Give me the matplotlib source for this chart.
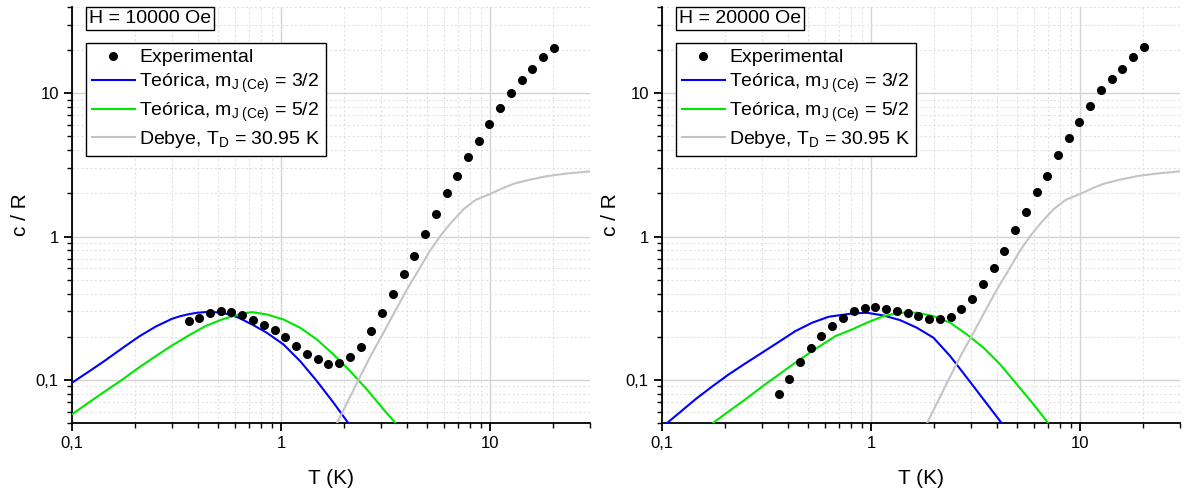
import numpy as np
import matplotlib
matplotlib.use('Agg')
import matplotlib.pyplot as plt
from matplotlib.ticker import LogLocator, NullFormatter, FuncFormatter

plt.rcParams['font.family'] = ['Liberation Sans', 'DejaVu Sans']
plt.rcParams['mathtext.fontset'] = 'custom'
plt.rcParams['mathtext.rm'] = 'Liberation Sans'
plt.rcParams['mathtext.it'] = 'Liberation Sans:italic'
plt.rcParams['mathtext.bf'] = 'Liberation Sans:bold'

# temperatures of the measured points (same grid for both fields)
T_exp = [0.363, 0.406, 0.457, 0.515, 0.578, 0.653, 0.734, 0.829, 0.933, 1.049,
         1.180, 1.327, 1.498, 1.684, 1.895, 2.138, 2.406, 2.705, 3.053, 3.435,
         3.865, 4.343, 4.872, 5.499, 6.179, 6.953, 7.823, 8.790, 9.890, 11.13,
         12.56, 14.12, 15.89, 17.87, 20.09]

# c/R, H = 10000 Oe
c_exp_10k = [0.257, 0.271, 0.294, 0.302, 0.297, 0.283, 0.263, 0.2425, 0.2213, 0.1988,
             0.1712, 0.1523, 0.1389, 0.1297, 0.1318, 0.1441, 0.1703, 0.2203, 0.294, 0.396,
             0.552, 0.734, 1.049, 1.446, 2.003, 2.649, 3.593, 4.644, 6.06, 7.886,
             10.08, 12.42, 14.75, 17.88, 20.86]

# c/R, H = 20000 Oe
c_exp_20k = [0.0801, 0.1019, 0.1331, 0.1677, 0.2010, 0.2370, 0.2713, 0.300, 0.315, 0.3237,
             0.3134, 0.3035, 0.2906, 0.2784, 0.2640, 0.2640, 0.2757, 0.3134, 0.368, 0.468,
             0.608, 0.790, 1.106, 1.477, 2.036, 2.649, 3.686, 4.842, 6.26, 8.09,
             10.46, 12.56, 14.75, 17.88, 21.19]

# theoretical curves, H = 10000 Oe
T_th_10k = [0.1, 0.1202, 0.1443, 0.1734, 0.2085, 0.2504, 0.301, 0.3298, 0.362, 0.3963,
            0.434, 0.4764, 0.522, 0.572, 0.627, 0.726, 0.854, 1.026, 1.233, 1.482,
            1.779, 2.115]
c_32_10k = [0.0955, 0.1141, 0.1368, 0.1658, 0.2000, 0.2348, 0.267, 0.2784, 0.2874, 0.294,
            0.297, 0.297, 0.294, 0.2847, 0.2713, 0.2436, 0.2133, 0.1768, 0.1352, 0.0981,
            0.0694, 0.0490]
T_th2_10k = [0.1, 0.1202, 0.1443, 0.1734, 0.2085, 0.2504, 0.301, 0.362, 0.434, 0.522,
             0.627, 0.726, 0.854, 1.026, 1.233, 1.482, 1.779, 2.138, 2.570, 3.087,
             3.560]
c_52_10k = [0.0575, 0.0694, 0.0835, 0.1000, 0.1216, 0.1458, 0.174, 0.2042, 0.237, 0.264,
            0.286, 0.297, 0.286, 0.264, 0.231, 0.1915, 0.1505, 0.1151, 0.0859, 0.0623,
            0.0490]

# theoretical curves, H = 20000 Oe
T_th_20k = [0.1040, 0.1202, 0.1443, 0.1734, 0.2085, 0.2504, 0.301, 0.363, 0.434, 0.522,
            0.627, 0.811, 0.954, 1.145, 1.377, 1.655, 1.987, 2.388, 2.870, 3.446,
            4.250]
c_32_20k = [0.0490, 0.0584, 0.0731, 0.0897, 0.1092, 0.1303, 0.1547, 0.1846, 0.2188, 0.2504,
            0.2757, 0.2906, 0.294, 0.2815, 0.261, 0.231, 0.1968, 0.1465, 0.1036, 0.0731,
            0.0490]
T_th2_20k = [0.1720, 0.2085, 0.2504, 0.301, 0.363, 0.434, 0.522, 0.675, 0.811, 0.954,
             1.145, 1.377, 1.655, 1.987, 2.388, 2.870, 3.446, 4.142, 4.979, 5.978,
             7.10]
c_52_20k = [0.0490, 0.0603, 0.0731, 0.0897, 0.1092, 0.1318, 0.1587, 0.2019, 0.2248, 0.2504,
            0.2784, 0.294, 0.294, 0.2784, 0.2504, 0.2075, 0.1677, 0.1282, 0.0930, 0.0675,
            0.0490]

# Debye, T_D = 30.95 K
T_deb = [1.84, 2.344, 2.70, 3.087, 3.50, 3.995, 4.50, 5.164, 5.80, 6.50,
         7.45, 8.50, 10.0, 11.5, 13.0, 15.0, 18.7, 23.0, 30.0]
c_deb = [0.0490, 0.100, 0.150, 0.2133, 0.300, 0.427, 0.570, 0.800, 1.020, 1.250,
         1.550, 1.800, 1.985, 2.180, 2.340, 2.470, 2.640, 2.750, 2.851]

fields = ['H = 10000 Oe', 'H = 20000 Oe']
panels = [(c_exp_10k, T_th_10k, c_32_10k, T_th2_10k, c_52_10k),
          (c_exp_20k, T_th_20k, c_32_20k, T_th2_20k, c_52_20k)]

lab_exp = 'Experimental'
lab_32 = r'Teórica, m$_{\mathrm{J\ (Ce)}}$ = 3/2'
lab_52 = r'Teórica, m$_{\mathrm{J\ (Ce)}}$ = 5/2'
lab_deb = r'Debye, T$_{\mathrm{D}}$ = 30.95 K'


def comma(v, pos):
    return ('%g' % v).replace('.', ',')


fig = plt.figure(figsize=(11.85, 4.93), dpi=100)
lefts = [72, 662]

for i, (field, (c_exp, t1, c1, t2, c2)) in enumerate(zip(fields, panels)):
    ax = fig.add_axes([lefts[i] / 1185, 70 / 493, 518 / 1185, 416 / 493])
    ax.set_xscale('log')
    ax.set_yscale('log')

    ax.plot(t1, c1, color='#0000ff', lw=1.5, label=lab_32, zorder=3)
    ax.plot(t2, c2, color='#00e600', lw=1.5, label=lab_52, zorder=3)
    ax.plot(T_deb, c_deb, color='#c4c4c4', lw=1.5, label=lab_deb, zorder=3)
    ax.plot(T_exp, c_exp, 'o', color='black', ms=5.5, label=lab_exp, zorder=4)

    ax.set_xlim(0.1, 30)
    ax.set_ylim(0.05, 40)

    for s in ['top', 'right']:
        ax.spines[s].set_visible(False)
    for s in ['left', 'bottom']:
        ax.spines[s].set_linewidth(1.3)

    ax.set_xticks([0.1, 1, 10])
    ax.set_yticks([0.1, 1, 10])
    ax.xaxis.set_major_formatter(FuncFormatter(comma))
    ax.yaxis.set_major_formatter(FuncFormatter(comma))
    for a in (ax.xaxis, ax.yaxis):
        a.set_minor_locator(LogLocator(base=10, subs=range(2, 10)))
        a.set_minor_formatter(NullFormatter())
    ax.tick_params(which='major', direction='out', length=6, width=1.3, labelsize=12)
    ax.tick_params(which='minor', direction='out', length=3.5, width=1.0)

    ax.grid(which='major', color='#d4d4d4', lw=1.0, ls='-', zorder=0)
    ax.grid(which='minor', color='#e2e2e2', lw=0.8, ls=(0, (2, 2)), zorder=0)
    ax.set_axisbelow(True)

    ax.set_xlabel('T (K)', fontsize=15)
    ax.set_ylabel('c / R', fontsize=15)
    ax.yaxis.set_label_coords(-42 / 518, 0.5)
    ax.xaxis.set_label_coords(0.5, -46 / 416)

    # field label in a box, top left
    ax.text(17 / 518, 0.993, field, transform=ax.transAxes, fontsize=14,
            va='top', ha='left',
            bbox=dict(boxstyle='square,pad=0.15', fc='white', ec='black', lw=1.0))

    # legend with the points first
    h, l = ax.get_legend_handles_labels()
    order = [3, 0, 1, 2]
    leg = ax.legend([h[k] for k in order], [l[k] for k in order],
                    loc='upper left', bbox_to_anchor=(14 / 518, 1 - 36 / 416),
                    fontsize=14, fancybox=False, edgecolor='black', framealpha=1,
                    borderaxespad=0, handlelength=2.2, handletextpad=0.25,
                    labelspacing=0.28, borderpad=0.3, numpoints=1)
    leg.get_frame().set_linewidth(1.0)

fig.savefig('out.png', dpi=100)
